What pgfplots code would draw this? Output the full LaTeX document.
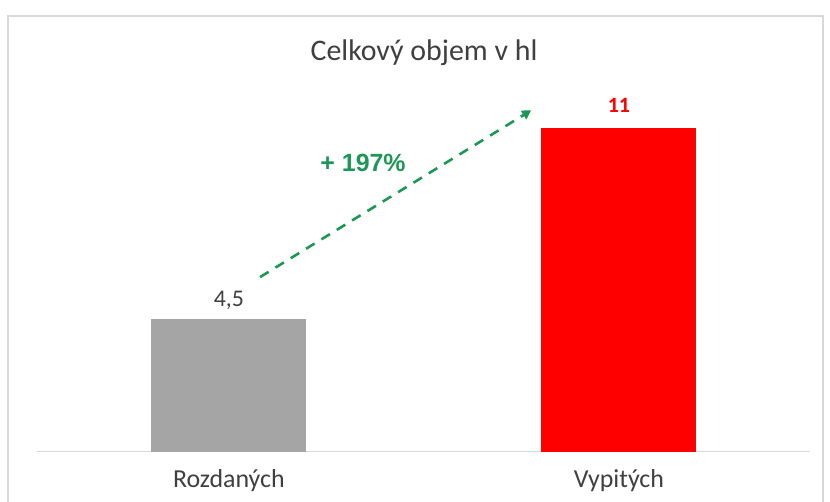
\documentclass[border=0pt]{standalone}
\usepackage{pgfplots}
\pgfplotsset{compat=1.18}
\usepackage{fontspec}
\setmainfont{Carlito}
\newfontfamily\arialfont{Liberation Sans}
\usetikzlibrary{arrows.meta}
\definecolor{bargray}{RGB}{165,165,165}
\definecolor{barred}{RGB}{255,0,0}
\definecolor{arrgreen}{RGB}{30,150,85}
\definecolor{txtgray}{RGB}{64,64,64}
\definecolor{framegray}{RGB}{217,217,217}
\begin{document}
\begin{tikzpicture}[x=1bp,y=1bp]
\useasboundingbox (0,0) rectangle (830,502);
\draw[framegray, line width=1.2bp] (8,-5) -- (8,486) -- (823,486) -- (823,-5);
\node[txtgray, font=\fontsize{30}{34}\selectfont] at (424,449) {Celkový objem v hl};
\begin{axis}[
  at={(37bp,50bp)}, anchor=south west,
  scale only axis, width=773bp, height=412.3bp,
  xmin=-0.492, xmax=1.49, ymin=0, ymax=14,
  enlargelimits=false,
  hide y axis,
  axis x line*=bottom,
  x axis line style={draw=framegray, line width=1bp, -},
  xtick={0,1}, xticklabels={Rozdaných,Vypitých},
  major tick length=0pt,
  xticklabel style={txtgray, font=\fontsize{26}{30}\selectfont, yshift=-14bp},
  ybar, bar width=0.397,
  clip=false,
]
\addplot[fill=bargray, draw=none, bar shift=0pt,
  nodes near coords={4,5},
  every node near coord/.append style={txtgray, font=\fontsize{24}{28}\selectfont, yshift=6bp}]
  coordinates {(0,4.5)};
\addplot[fill=barred, draw=none, bar shift=0pt,
  nodes near coords={11},
  every node near coord/.append style={barred, font=\bfseries\fontsize{22}{26}\selectfont, yshift=12bp}]
  coordinates {(1,11)};
\draw[arrgreen, line width=2.6bp, dash pattern=on 10bp off 8bp, -{Triangle[length=9bp,width=10bp]}]
  (axis cs:0.08,5.94) -- (axis cs:0.775,11.6);
\node[arrgreen, font=\arialfont\bfseries\fontsize{25}{29}\selectfont] at (axis cs:0.344,9.8) {+ 197\%};
\end{axis}
\end{tikzpicture}
\end{document}
